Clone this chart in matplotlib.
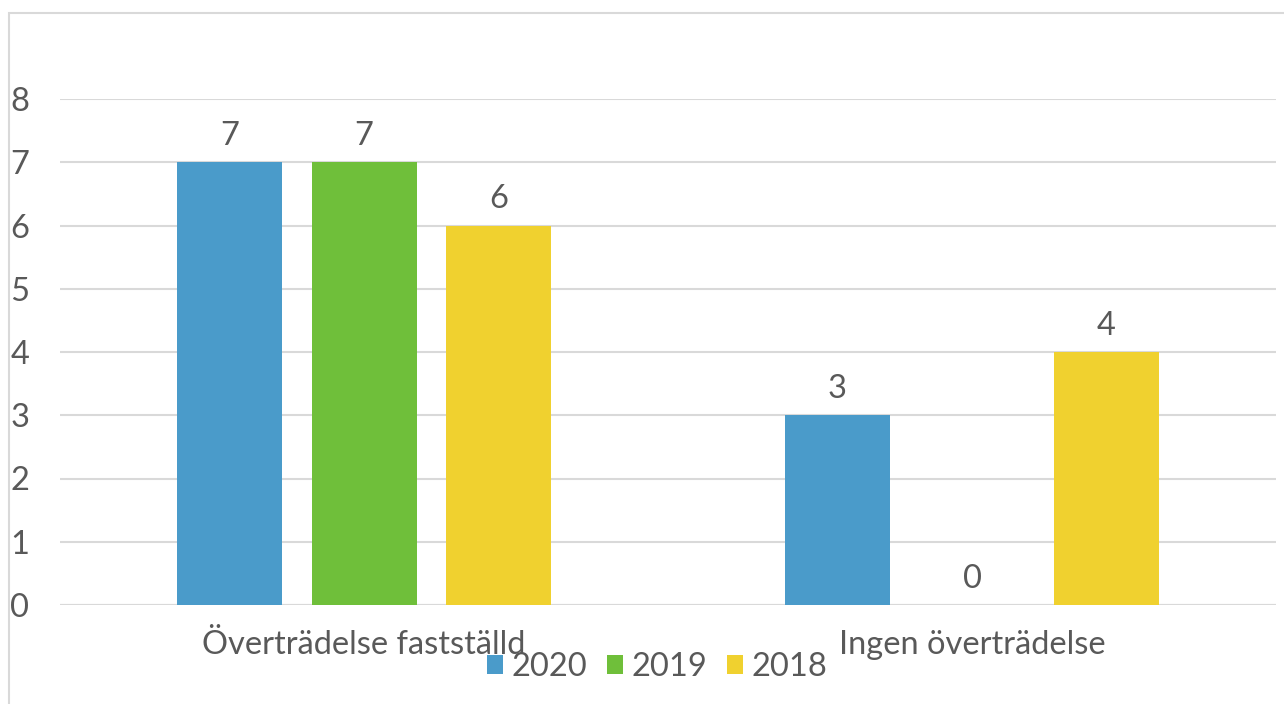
import numpy as np
import matplotlib.pyplot as plt
from matplotlib.patches import Rectangle

categories = ["Överträdelse fastställd", "Ingen överträdelse"]
years = ["2020", "2019", "2018"]
values_2020 = [7, 3]
values_2019 = [7, 0]
values_2018 = [6, 4]
colors = ["#4A9BCA", "#6FBF3A", "#F0D12F"]
yticks = [0, 1, 2, 3, 4, 5, 6, 7, 8]

plt.rcParams['font.family'] = ['Lato', 'DejaVu Sans']
text_col = "#595959"
fs = 23.5

fig = plt.figure(figsize=(12.84, 7.04), dpi=100)
ax = fig.add_axes([60 / 1284, 1 - 605 / 704, 1216 / 1284, 506 / 704])

# chart frame (cut off at right and bottom like the original)
fig.patches.append(Rectangle((9 / 1284, -0.05), 1.1, 1 - 13 / 704 + 0.05,
                             transform=fig.transFigure, fill=False,
                             edgecolor="#D9D9D9", linewidth=1.5))

x = np.arange(len(categories))
width = 105 / 608
step = 134.5 / 608
series = [values_2020, values_2019, values_2018]
for i, (vals, yr) in enumerate(zip(series, years)):
    pos = x + (i - 1) * step
    ax.bar(pos, vals, width=width, color=colors[i], label=yr, zorder=3)
    for p, v in zip(pos, vals):
        ax.annotate(str(v), (p, v), xytext=(0, 8), textcoords="offset points",
                    ha="center", va="bottom", fontsize=fs, color=text_col)

ax.set_xlim(-0.5, 1.5)
ax.set_ylim(0, 8)
ax.set_yticks(yticks)
ax.yaxis.grid(True, color="#D9D9D9", linewidth=1.5, zorder=0)
for s in ax.spines.values():
    s.set_visible(False)
ax.tick_params(axis="y", length=0, pad=29, labelsize=fs, labelcolor=text_col)
ax.tick_params(axis="x", length=0, pad=18, labelsize=fs, labelcolor=text_col)
ax.set_xticks(x)
ax.set_xticklabels(categories)
for lbl in ax.get_yticklabels():
    lbl.set_horizontalalignment("center")
ax.axhline(0, color="#D9D9D9", linewidth=1.5, zorder=2)

fig.legend(loc="center", bbox_to_anchor=(657 / 1284, 1 - 667 / 704), ncol=3,
           frameon=False, fontsize=fs, handlelength=0.5, handleheight=0.5,
           handletextpad=0.25, columnspacing=0.6, labelcolor=text_col,
           borderpad=0)

fig.savefig("out.png", dpi=100)
